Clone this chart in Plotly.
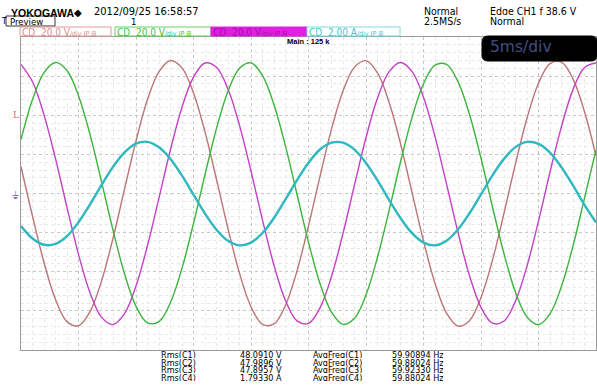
import plotly.graph_objects as go

W, H = 597, 387

# time samples (ms), 5 ms/div, 10 div
t_ms = [0, 1, 2, 3, 4, 5, 6, 7, 8, 9, 10, 11, 12, 13, 14, 15, 16, 17, 18, 19, 20,
        21, 22, 23, 24, 25, 26, 27, 28, 29, 30, 31, 32, 33, 34, 35, 36, 37, 38, 39, 40,
        41, 42, 43, 44, 45, 46, 47, 48, 49, 50]

# C1 (V)
c1_volts = [13.8, -11.6, -35.3, -54.2, -65.5, -67.6, -60.4, -44.8, -22.9, 2.2, 26.9,
            48.0, 62.3, 68.0, 64.2, 51.4, 31.5, 7.2, -18.0, -40.8, -57.9,
            -66.9, -66.7, -57.1, -39.6, -16.5, 8.8, 32.9, 52.4, 64.6, 67.9,
            61.6, 46.8, 25.5, 0.6, -24.3, -45.9, -61.1, -67.8, -65.0, -53.2,
            -34.0, -10.0, 15.3, 38.5, 56.4, 66.4, 67.2, 58.6, 41.8, 19.3]
# C2 (V)
c2_volts = [27.5, 48.0, 61.8, 67.0, 62.9, 50.0, 30.2, 6.1, -18.7, -41.0, -57.6,
            -66.1, -65.5, -55.7, -38.2, -15.3, 9.6, 33.3, 52.3, 64.0, 66.8,
            60.3, 45.4, 24.2, -0.4, -24.9, -46.0, -60.6, -66.9, -63.8, -51.8,
            -32.6, -8.9, 16.1, 38.8, 56.1, 65.6, 66.0, 57.2, 40.4, 18.0,
            -6.9, -30.8, -50.5, -63.1, -67.0, -61.5, -47.4, -26.8, -2.4, 22.3]
# C3 (V)
c3_volts = [66.0, 57.1, 40.2, 17.8, -7.1, -31.1, -50.7, -63.2, -67.0, -61.4, -47.3,
            -26.6, -2.2, 22.5, 44.1, 59.5, 66.7, 64.5, 53.4, 34.8, 11.4,
            -13.6, -36.7, -54.7, -65.1, -66.4, -58.5, -42.4, -20.4, 4.4, 28.6,
            48.8, 62.2, 67.0, 62.4, 49.2, 29.1, 4.9, -19.9, -42.0, -58.2,
            -66.3, -65.2, -55.0, -37.1, -14.1, 10.9, 34.3, 53.1, 64.4, 66.7]
# C4 (A)
c4_amps = [-1.66, -2.30, -2.62, -2.58, -2.18, -1.47, -0.56, 0.43, 1.36, 2.10, 2.55,
           2.64, 2.36, 1.76, 0.91, -0.06, -1.03, -1.85, -2.42, -2.65, -2.51,
           -2.02, -1.25, -0.30, 0.68, 1.57, 2.25, 2.60, 2.60, 2.24, 1.56,
           0.67, -0.32, -1.26, -2.03, -2.51, -2.65, -2.41, -1.84, -1.01, -0.05,
           0.93, 1.77, 2.37, 2.64, 2.54, 2.09, 1.34, 0.41, -0.58, -1.48]

channel_scales = ["20.0 V", "20.0 V", "20.0 V", "2.00 A"]
meas_names = ["Rms(C1)", "Rms(C2)", "Rms(C3)", "Rms(C4)"]
meas_values = ["48.0910 V", "47.9896 V", "47.8957 V", "1.79330 A"]
freq_names = ["AvgFreq(C1)", "AvgFreq(C2)", "AvgFreq(C3)", "AvgFreq(C4)"]
freq_values = ["59.90894 Hz", "59.88024 Hz", "59.92330 Hz", "59.88024 Hz"]

NARROW = "Liberation Sans Narrow, DejaVu Sans Condensed, Liberation Sans, sans-serif"
SANS = "Liberation Sans, Arial, sans-serif"


def px(x):
    return x / W


def py(y):
    return 1 - y / H


fig = go.Figure()
traces = [
    (c1_volts, "#bc7474", 1.4, "y"),
    (c3_volts, "#c440c4", 1.4, "y"),
    (c2_volts, "#3cb43c", 1.4, "y"),
    (c4_amps, "#2fb8c0", 2.4, "y2"),
]
for vals, col, wd, ax in traces:
    fig.add_trace(go.Scatter(x=t_ms, y=vals, mode="lines", yaxis=ax,
                             line=dict(color=col, width=wd, shape="spline", smoothing=1.0),
                             hoverinfo="skip", showlegend=False))

ann = []


def txt(x, y, s, size, color="black", family=NARROW, anchor="left", h=None):
    d = dict(x=px(x), y=py(y), xref="paper", yref="paper", text=s,
             showarrow=False, xanchor=anchor, yanchor="middle", borderpad=0,
             font=dict(size=size, color=color, family=family))
    if h is not None:
        d["height"] = h
    ann.append(d)


shapes = []

# header
txt(10, 12, "<b>YOKOGAWA</b>", 10.5, family=SANS, h=9)
txt(73, 12, "◆", 10, family="DejaVu Sans", h=9)
txt(93, 11.5, "2012/09/25 16:58:57", 11, h=9)
txt(0, 21, "T", 8.5, h=8)
shapes.append(dict(type="rect", xref="paper", yref="paper", x0=px(6), x1=px(55),
                   y0=py(26), y1=py(16), line=dict(color="#333", width=1)))
txt(9, 21, "Preview", 9.5, h=8)
txt(130, 21.5, "1", 9.5, h=7)
txt(423, 11, "Normal", 10.5, h=9)
txt(423, 21, "2.5MS/s", 10.5, h=9)
txt(489, 11, "Edge CH1 ƒ 38.6 V", 10.5, h=9)
txt(489, 21, "Normal", 10.5, h=9)

# channel bars
bars = [
    (20, 111, "#e39a9a", "white", "#e08a8a"),
    (115, 211, "#66d066", "white", "#44c044"),
    (211, 307, "#e020e0", "#e020e0", "#a010a0"),
    (307, 400, "#7fd8dc", "white", "#4cc4c8"),
]
for (x0, x1, border, fill, tcol), sc in zip(bars, channel_scales):
    shapes.append(dict(type="rect", xref="paper", yref="paper", x0=px(x0), x1=px(x1),
                       y0=py(36), y1=py(27), line=dict(color=border, width=1),
                       fillcolor=fill))
    txt(x0 + 1, 31.5, "CD  " + sc + "<span style='font-size:7px'>/div JP ⊞</span>",
        10, color=tcol, h=8)

# in-grid labels
txt(286, 42, "<b>Main : 125 k</b>", 7.5, family=SANS)
r = 6
bx0, bx1, by0, by1 = 482, 597, 36, 61
path = (f"M {px(bx0 + r)},{py(by0)} L {px(bx1 - r)},{py(by0)} "
        f"Q {px(bx1)},{py(by0)} {px(bx1)},{py(by0 + r)} "
        f"L {px(bx1)},{py(by1 - r)} Q {px(bx1)},{py(by1)} {px(bx1 - r)},{py(by1)} "
        f"L {px(bx0 + r)},{py(by1)} Q {px(bx0)},{py(by1)} {px(bx0)},{py(by1 - r)} "
        f"L {px(bx0)},{py(by0 + r)} Q {px(bx0)},{py(by0)} {px(bx0 + r)},{py(by0)} Z")
shapes.append(dict(type="path", xref="paper", yref="paper", path=path,
                   fillcolor="#000000", line=dict(color="#000000", width=1), layer="above"))
txt(489, 47.5, "5ms/div", 15.5, color="#454d80", family="DejaVu Sans")

# channel markers on the left
txt(16, 115, "L", 9, color="#d07070", family="DejaVu Serif", anchor="center")
txt(15, 195, "⏚", 10, color="#cc44cc", family="DejaVu Sans", anchor="center")

# measurements
for i in range(4):
    yy = 354.3 + i * 7.7
    txt(160, yy, meas_names[i], 9, h=7)
    txt(239, yy, meas_values[i], 9, h=7)
    txt(312, yy, freq_names[i], 9, h=7)
    txt(391, yy, freq_values[i], 9, h=7)

fig.update_layout(
    width=W, height=H, margin=dict(l=0, r=0, t=0, b=0),
    paper_bgcolor="white", plot_bgcolor="white",
    xaxis=dict(domain=[21 / W, 596 / W], range=[0, 50], dtick=5, showticklabels=False,
               showgrid=True, gridcolor="#c8c8c8", griddash="dot", gridwidth=1,
               zeroline=False, showline=True, linecolor="#9a9a9a", mirror=True,
               ticks="", minor=dict(dtick=1, showgrid=True, gridcolor="#e8e8e8", gridwidth=1)),
    yaxis=dict(domain=[1 - 350 / H, 1 - 37 / H], range=[-80, 80], dtick=20,
               showticklabels=False, showgrid=True, gridcolor="#c8c8c8", griddash="dot",
               zeroline=False, showline=True, linecolor="#9a9a9a", mirror=True, ticks="",
               minor=dict(dtick=4, showgrid=True, gridcolor="#e8e8e8", gridwidth=1)),
    yaxis2=dict(overlaying="y", range=[-8, 8], visible=False, showgrid=False),
    annotations=ann, shapes=shapes,
)

fig.write_html("out.html", config={"displayModeBar": False},
               post_script="document.body.style.margin='0';document.body.style.overflow='hidden';")
